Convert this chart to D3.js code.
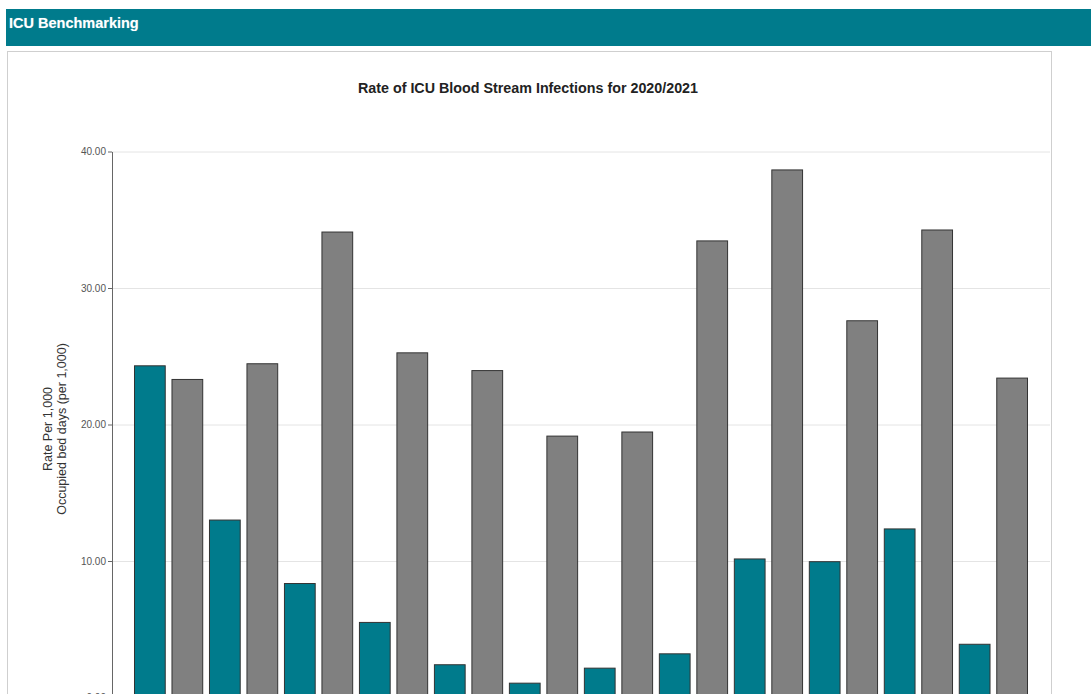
<!DOCTYPE html>
<html lang="en">
<head>
  <meta charset="UTF-8" />
  <title>ICU Benchmarking</title>
  <script src="https://d3js.org/d3.v7.min.js"></script>
  <style>
    body { margin: 0; background: #fff; font-family: "Liberation Sans", Arial, sans-serif; }
    .header {
      position: absolute; left: 6px; top: 9px; width: 1085px; height: 37px;
      background: #007b8c; color: #fff; font-weight: bold; font-size: 14.5px;
      line-height: 29px; padding-left: 3px; box-sizing: border-box;
      text-shadow: 0 0 1px rgba(255,255,255,0.4);
    }
    #chart { position: absolute; left: 0; top: 0; }
    .grid line { stroke: #e4e4e4; }
    .grid .domain { display: none; }
    .y-axis text { fill: #555; font-size: 10px; }
    .y-axis line, .y-axis path { stroke: #666; }
  </style>
</head>
<body>
  <div class="header">ICU Benchmarking</div>
  <svg id="chart" width="1091" height="694"></svg>

  <script>
    // one pair of bars per ICU: this unit (teal) vs comparison (gray)
    const units = ["1", "2", "3", "4", "5", "6", "7", "8", "9", "10", "11", "12"];
    const unitRates = [24.3, 13.0, 8.35, 5.5, 2.4, 1.05, 2.15, 3.2, 10.15, 9.95, 12.35, 3.9];
    const peerRates = [23.3, 24.45, 34.1, 25.25, 23.95, 19.15, 19.45, 33.45, 38.65, 27.6, 34.25, 23.4];
    const yTicks = [0, 10, 20, 30, 40];

    const colors = { unit: "#007b8c", peer: "#808080" };

    const svg = d3.select("#chart");

    // panel
    svg.append("rect")
      .attr("x", 7.5).attr("y", 51.5)
      .attr("width", 1044).attr("height", 700)
      .attr("fill", "#fff").attr("stroke", "#cfcfcf");

    svg.append("text")
      .attr("x", 528).attr("y", 93)
      .attr("text-anchor", "middle")
      .attr("fill", "#222")
      .style("font-size", "14.3px")
      .style("font-weight", "bold")
      .text("Rate of ICU Blood Stream Infections for 2020/2021");

    const bars = units.flatMap((u, i) => [
      { key: u + "-unit", type: "unit", value: unitRates[i] },
      { key: u + "-peer", type: "peer", value: peerRates[i] }
    ]);

    const x = d3.scaleBand()
      .domain(bars.map(d => d.key))
      .range([112, 1050])
      .paddingInner(0.18)
      .paddingOuter(0.6);

    const y = d3.scaleLinear()
      .domain([0, 40])
      .range([697.5, 151.5]);

    svg.append("g")
      .attr("class", "grid")
      .attr("transform", "translate(112,0)")
      .call(d3.axisRight(y).tickValues(yTicks).tickSize(938).tickFormat(""));

    svg.append("g")
      .attr("class", "y-axis")
      .attr("transform", "translate(112,0)")
      .call(d3.axisLeft(y).tickValues(yTicks).tickSize(4).tickSizeOuter(0).tickPadding(2)
        .tickFormat(d3.format(".2f")));

    svg.append("g")
      .selectAll("rect")
      .data(bars)
      .join("rect")
      .attr("x", d => x(d.key))
      .attr("y", d => y(d.value))
      .attr("width", x.bandwidth())
      .attr("height", d => y(0) - y(d.value))
      .attr("fill", d => colors[d.type])
      .attr("stroke", "#333")
      .attr("stroke-width", 1);

    const yLabel = svg.append("text")
      .attr("transform", "translate(52,429) rotate(-90)")
      .attr("text-anchor", "middle")
      .attr("fill", "#333")
      .style("font-size", "12.5px");
    yLabel.append("tspan").attr("x", 0).attr("dy", 0).text("Rate Per 1,000");
    yLabel.append("tspan").attr("x", 0).attr("dy", 14).text("Occupied bed days (per 1,000)");
  </script>
</body>
</html>
